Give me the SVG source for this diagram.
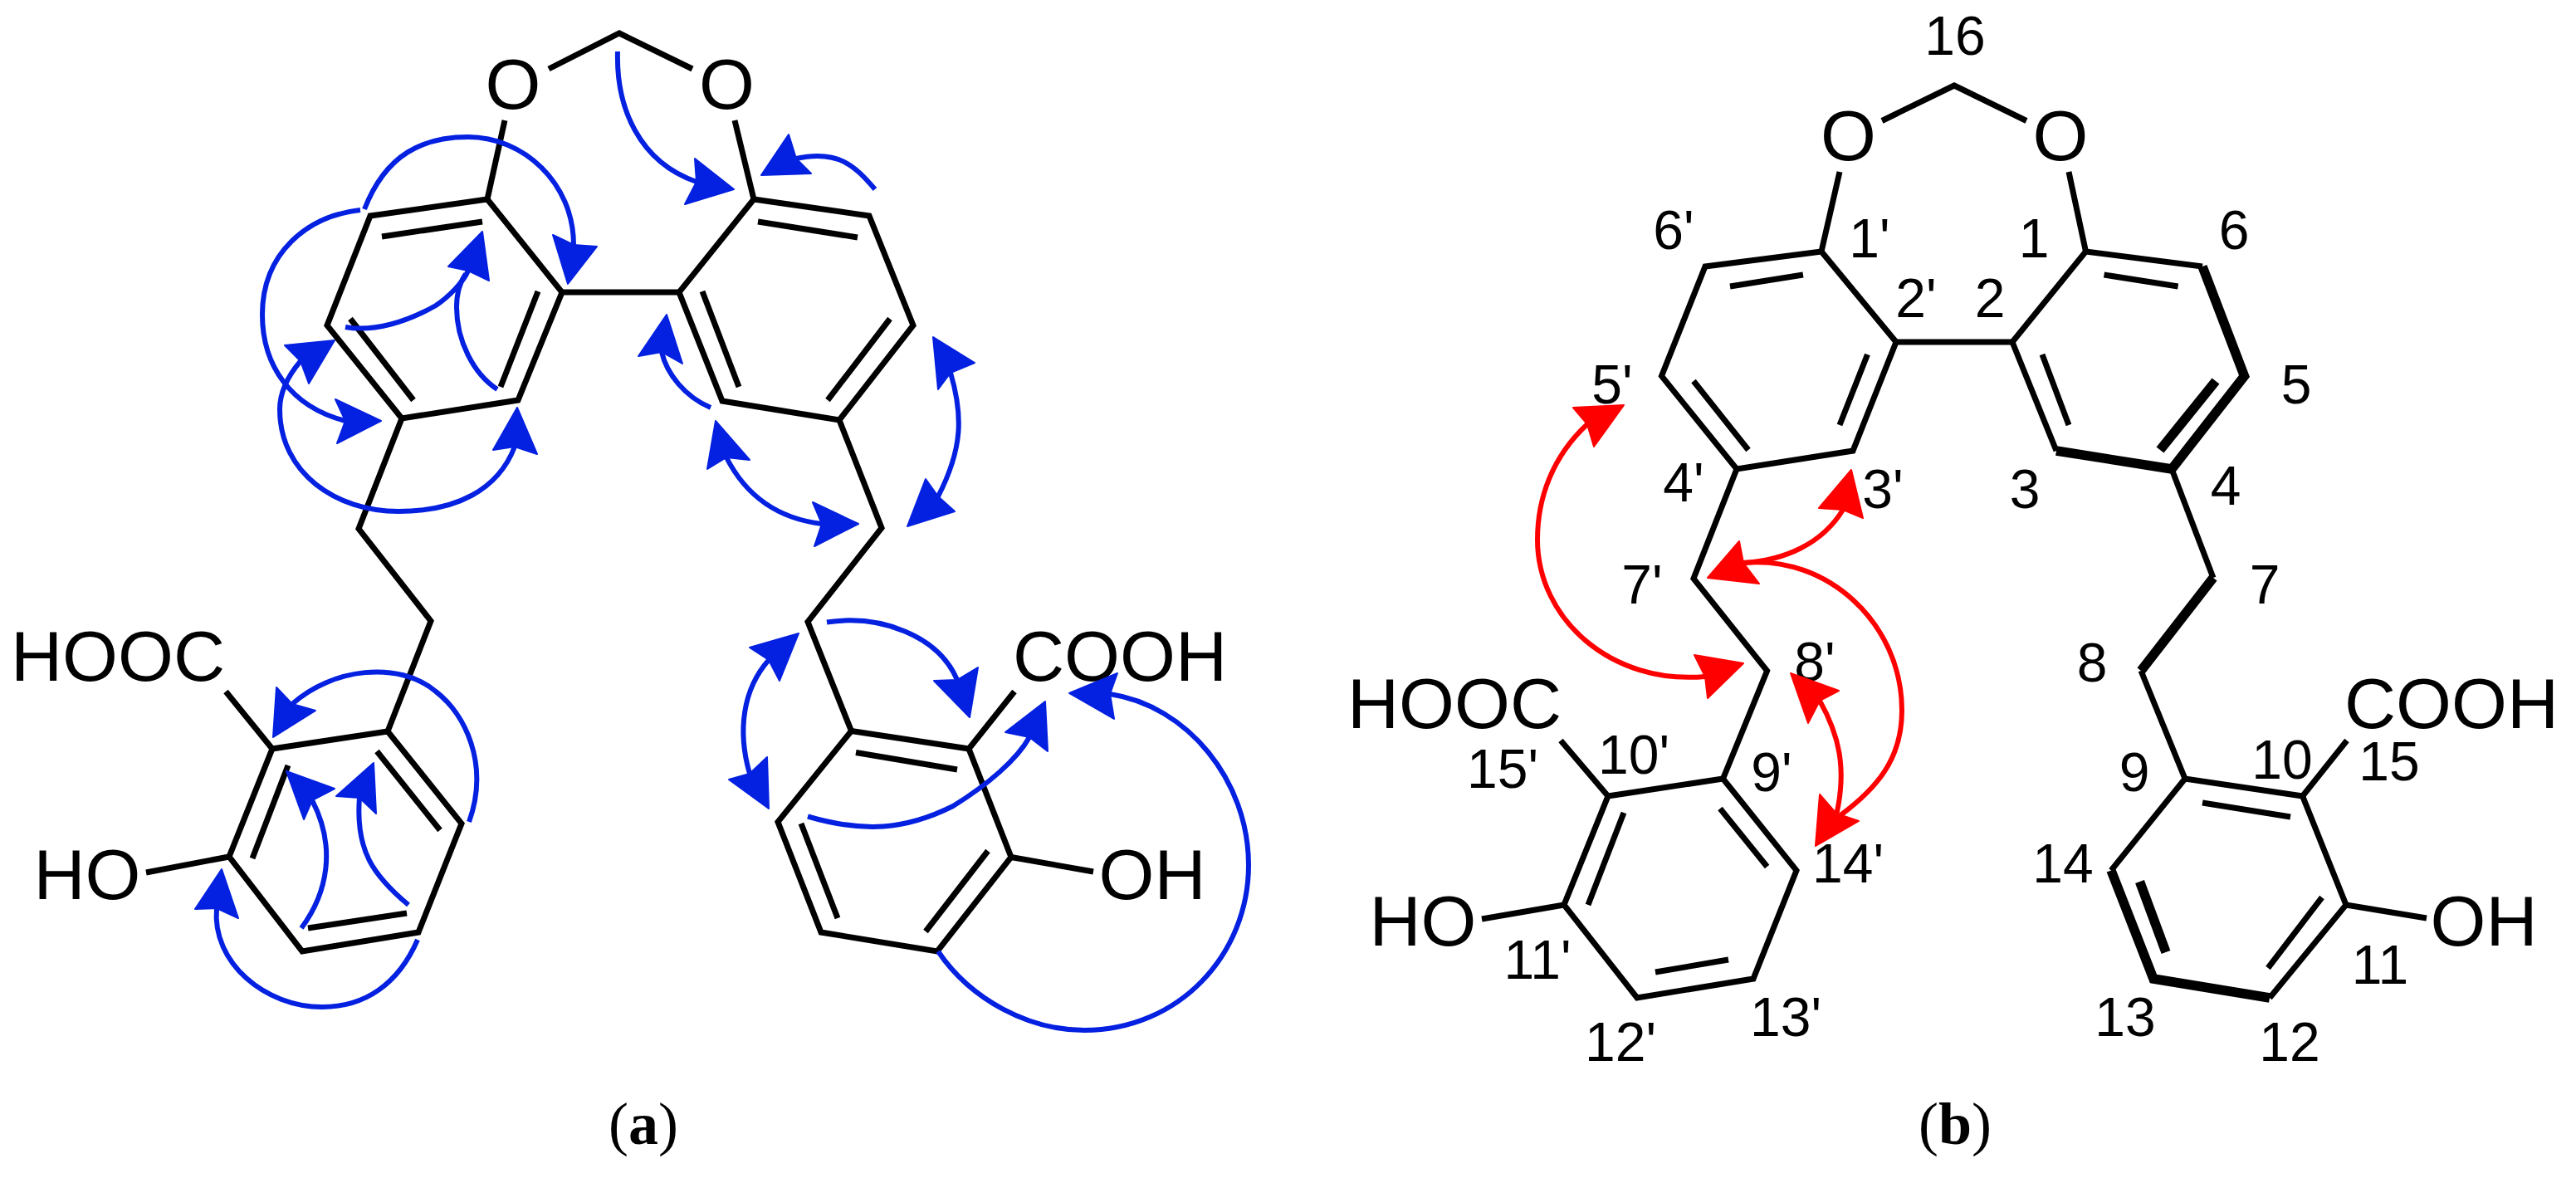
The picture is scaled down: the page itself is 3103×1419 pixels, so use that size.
<svg xmlns="http://www.w3.org/2000/svg" width="3103" height="1419" viewBox="0 0 3103 1419">
<style>
text{font-family:"Liberation Sans",Arial,sans-serif;fill:#000}
.a{font-size:86px;text-anchor:middle}
.n{font-size:66px;text-anchor:middle}
.c{font-family:"Liberation Serif","Times New Roman",serif;font-size:72px;text-anchor:middle}
.c tspan{font-weight:700}
.b{fill:none;stroke:#000;stroke-width:7;stroke-linejoin:miter;stroke-linecap:butt}
.t{fill:none;stroke:#000;stroke-width:11.5;stroke-linejoin:miter;stroke-linecap:butt}
.bl{fill:none;stroke:#0420e0;stroke-width:6}
.bh{fill:#0420e0;stroke:#0420e0;stroke-width:2;stroke-linejoin:round}
.rl{fill:none;stroke:#f00;stroke-width:6}
.rh{fill:#f00;stroke:#f00;stroke-width:2;stroke-linejoin:round}
</style>
<rect width="3103" height="1419" fill="#fff"/>

<g id="molecule-a">
<path class="b" d="M661,83L746,40L834,83M608,145L587,240M885,145L908,240"/>
<path class="b" d="M587,240L446,260L394,392L484,504L624,482L677,352Z"/>
<path class="b" d="M460,285L581,267M422,384L498,482M648,351L603,466"/>
<path class="b" d="M677,352H818"/>
<path class="b" d="M908,240L1047,260L1100,392L1011,506L870,483L818,352Z"/>
<path class="b" d="M913,267L1033,286M1072,384L997,482M846,351L890,466"/>
<path class="b" d="M484,504L432,637L519,748L467,881"/>
<path class="b" d="M1011,506L1062,636L973,749L1025.5,880.5"/>
<path class="b" d="M467,881L328,902L276,1032L364,1146L504,1123L556,992Z"/>
<path class="b" d="M454,905L530,1000M347,922L304,1034M371,1118L490,1100M272,833L328,902M176,1051L276,1032"/>
<path class="b" d="M1025.5,880.5L1167,902L1218,1032.5L1129,1146L989,1123L937,990Z"/>
<path class="b" d="M1031,906.5L1153,927M1190,1025L1115,1122M965,992L1009,1106M1222,833L1167,902M1218,1032.5L1317,1050"/>
<text class="a" x="618" y="131">O</text>
<text class="a" x="875.5" y="131">O</text>
<text class="a" x="142" y="820">HOOC</text>
<text class="a" x="105" y="1083">HO</text>
<text class="a" x="1349" y="820">COOH</text>
<text class="a" x="1388" y="1083">OH</text>
<text class="c" x="775" y="1378">(<tspan>a</tspan>)</text>
</g>

<g id="molecule-b">
<path class="b" d="M2267,145.5L2354,103L2441,145.5M2216,207L2194,303M2492,207L2512.5,303"/>
<path class="b" d="M2194,303L2054,321L2001.5,453L2092,565L2232,543L2284,412Z"/>
<path class="b" d="M2084,345L2172,331M2040,459L2106,542M2249.5,427L2216,512"/>
<path class="b" d="M2284,412H2424"/>
<path class="b" d="M2424,412L2512.5,303L2653,321M2424,412L2477,543"/>
<path class="t" d="M2653,321L2703.5,453L2616,565L2477,543"/>
<path class="b" d="M2534.5,331L2623.6,345M2460,427L2492,512"/>
<path class="t" d="M2669,459L2602,542"/>
<path class="b" d="M2092,565L2040,697L2128.6,808L2075.5,938"/>
<path class="b" d="M2616,565L2666,696"/>
<path class="t" d="M2666,696L2579,808"/>
<path class="b" d="M2579,808L2632,938"/>
<path class="b" d="M2075.5,938L1937,959L1884,1090L1972,1202L2112,1179L2164,1048.5Z"/>
<path class="b" d="M2072,974L2128.6,1044M1956,979L1913,1090M1994,1171L2082,1156M1880,892L1937,959M1785,1107L1884,1090"/>
<path class="b" d="M2543,1048.5L2632,938L2773.6,959L2826,1090L2734,1202"/>
<path class="t" d="M2543,1048.5L2594,1179L2734,1202"/>
<path class="b" d="M2653,967L2759,984M2797,1081L2732,1166M2827,892L2773.6,959M2826,1090L2923,1106"/>
<path class="t" d="M2577.5,1062L2609,1147"/>
<text class="a" x="2226.5" y="193">O</text>
<text class="a" x="2482" y="193">O</text>
<text class="a" x="1752" y="876.5">HOOC</text>
<text class="a" x="1714" y="1139">HO</text>
<text class="a" x="2953" y="876.5">COOH</text>
<text class="a" x="2992" y="1139">OH</text>
<text class="n" x="2355" y="66">16</text>
<text class="n" x="2016" y="300">6'</text>
<text class="n" x="2252" y="310">1'</text>
<text class="n" x="2308" y="382">2'</text>
<text class="n" x="2397" y="382">2</text>
<text class="n" x="1942" y="486">5'</text>
<text class="n" x="2028" y="604">4'</text>
<text class="n" x="2268" y="612">3'</text>
<text class="n" x="1978" y="727">7'</text>
<text class="n" x="2450" y="310">1</text>
<text class="n" x="2691" y="300">6</text>
<text class="n" x="2766" y="486">5</text>
<text class="n" x="2681" y="608">4</text>
<text class="n" x="2439" y="612">3</text>
<text class="n" x="2728" y="727">7</text>
<text class="n" x="2520" y="821">8</text>
<text class="n" x="2571" y="953">9</text>
<text class="n" x="2749" y="938">10</text>
<text class="n" x="2878" y="940">15</text>
<text class="n" x="2485" y="1063">14</text>
<text class="n" x="2867" y="1185">11</text>
<text class="n" x="2560" y="1248">13</text>
<text class="n" x="2758" y="1278">12</text>
<text class="n" x="2186" y="820">8'</text>
<text class="n" x="1968" y="932">10'</text>
<text class="n" x="1810" y="949">15'</text>
<text class="n" x="2134" y="953">9'</text>
<text class="n" x="2226" y="1063">14'</text>
<text class="n" x="1852" y="1179">11'</text>
<text class="n" x="2151" y="1248">13'</text>
<text class="n" x="1952" y="1278">12'</text>
<text class="c" x="2355" y="1378">(<tspan>b</tspan>)</text>
</g>

<g id="connectors">
<path class="bl" d="M439,252C465,185 510,165 564,165C630,165 691,220 691,295"/>
<polygon class="bh" points="684,342 666,283 691,295 719,297"/>
<path class="bl" d="M434,253C370,260 316,305 316,379C316,440 350,490 416,507"/>
<polygon class="bh" points="459,507 404,481 416,507 406,534"/>
<path class="bl" d="M362,435C345,455 337,475 337,493C337,570 405,616 480,616C550,616 600,590 620,538"/>
<polygon class="bh" points="403,410 343,416 362,435 372,462"/>
<polygon class="bh" points="623,491 594,542 620,538 647,547"/>
<path class="bl" d="M416,394C450,400 490,388 525,368C540,358 558,340 564,326"/>
<path class="bl" d="M599,469C570,450 550,410 550,370C550,355 554,340 561,330"/>
<polygon class="bh" points="581,279 540,321 564,326 589,338"/>
<path class="bl" d="M744,62C742,130 770,195 839,219"/>
<polygon class="bh" points="884,228 837,191 839,219 825,246"/>
<path class="bl" d="M1054,228C1030,200 1010,180 959,191"/>
<polygon class="bh" points="917,211 950,162 959,191 977,209"/>
<path class="bl" d="M856,491C825,478 803,450 797,424"/>
<polygon class="bh" points="803,379 769,429 797,424 822,438"/>
<path class="bl" d="M875,551C900,600 940,625 990,631"/>
<polygon class="bh" points="862,507 852,565 875,551 903,554"/>
<polygon class="bh" points="1034,631 979,605 990,631 981,658"/>
<path class="bl" d="M1145,449C1160,500 1160,540 1130,598"/>
<polygon class="bh" points="1124,406 1130,469 1145,449 1174,437"/>
<polygon class="bh" points="1093,634 1115,577 1130,598 1150,616"/>
<path class="bl" d="M565,990C590,920 560,860 525,833C480,795 400,805 352,848"/>
<polygon class="bh" points="329,888 333,828 352,848 380,856"/>
<path class="bl" d="M363,1118C395,1075 405,1020 376,964"/>
<polygon class="bh" points="345,929 366,987 376,964 403,950"/>
<path class="bl" d="M492,1090C450,1055 428,1025 433,961"/>
<polygon class="bh" points="450,919 405,959 433,961 453,980"/>
<path class="bl" d="M503,1132C480,1185 440,1213 388,1213C320,1213 255,1160 261,1094"/>
<polygon class="bh" points="267,1047 235,1095 261,1094 287,1106"/>
<path class="bl" d="M996,749.5C1060,740 1130,765 1153,819"/>
<polygon class="bh" points="1168,864 1125,820 1153,819 1178,804"/>
<path class="bl" d="M926,795C895,830 888,880 903,932"/>
<polygon class="bh" points="962,763 903,780 926,795 939,820"/>
<polygon class="bh" points="926,974 878,939 903,932 924,912"/>
<path class="bl" d="M973,983.5C1040,1003 1090,1000 1148,971C1190,945 1225,915 1240,888"/>
<polygon class="bh" points="1259,845 1211,882 1240,888 1262,905"/>
<path class="bl" d="M1130,1146C1170,1205 1240,1241 1306,1241C1420,1241 1504,1150 1504,1042C1504,940 1430,850 1337,836"/>
<polygon class="bh" points="1288,835 1346,811 1337,836 1342,866"/>
<path class="rl" d="M1912,511C1870,550 1852,600 1852,650C1852,745 1940,825 2054,815"/>
<polygon class="rh" points="1956,488 1895,491 1912,511 1920,538"/>
<polygon class="rh" points="2100,799 2041,789 2054,815 2057,841"/>
<path class="rl" d="M2100,678C2150,675 2195,655 2220,614"/>
<polygon class="rh" points="2230,566 2191,612 2220,614 2244,624"/>
<polygon class="rh" points="2057,696 2095,652 2100,678 2119,703"/>
<path class="rl" d="M2100,678C2200,668 2291,750 2291,856C2291,915 2260,950 2217,982"/>
<path class="rl" d="M2192,844C2215,885 2225,925 2212,982"/>
<polygon class="rh" points="2157,811 2178,871 2192,844 2215,832"/>
<polygon class="rh" points="2187,1019 2192,957 2212,980 2239,989"/>
</g>
</svg>
